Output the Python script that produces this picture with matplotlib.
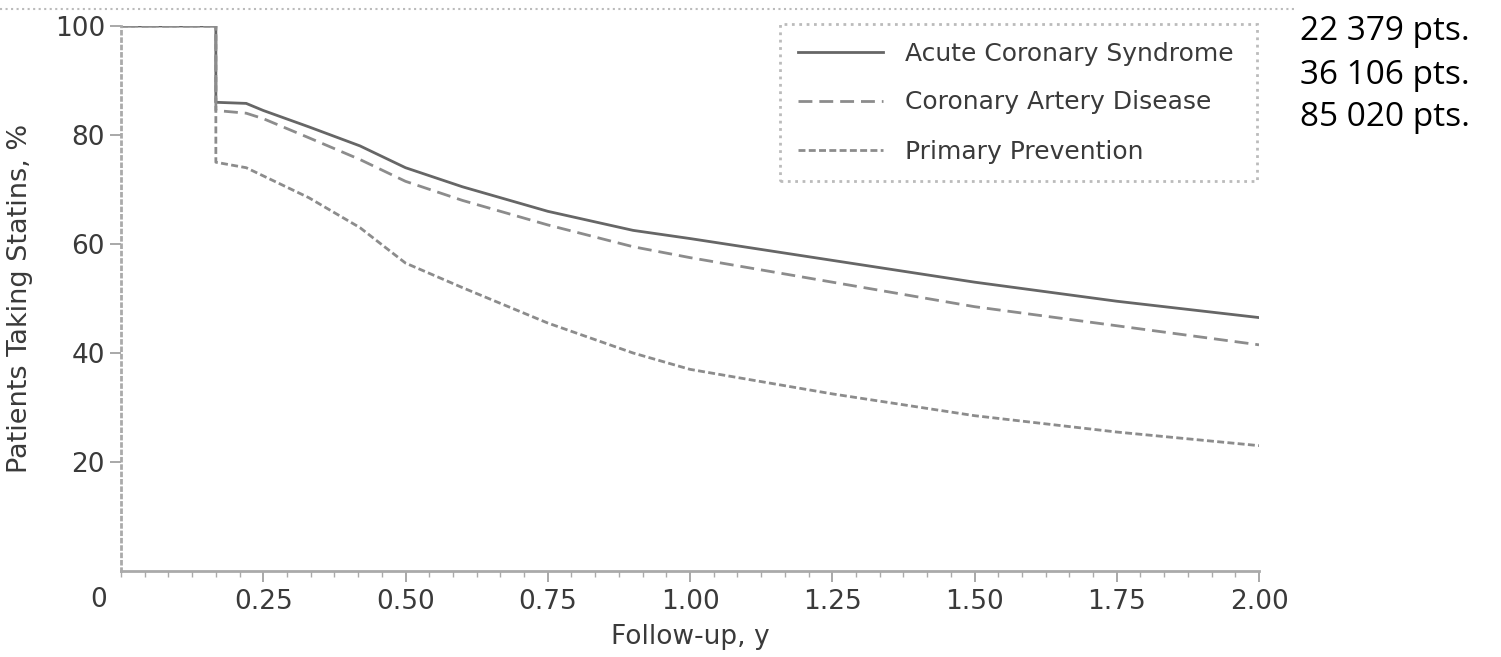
import numpy as np
import matplotlib.pyplot as plt
from matplotlib.lines import Line2D
from matplotlib.ticker import MultipleLocator

# follow-up time (years) and % of patients still taking statins
t = [0, 0.1667, 0.1667, 0.22, 0.25, 0.33, 0.42, 0.5, 0.6, 0.75, 0.9, 1.0, 1.25, 1.5, 1.75, 2.0]
acs = [100, 100, 86, 85.8, 84.5, 81.5, 78, 74, 70.5, 66, 62.5, 61, 57, 53, 49.5, 46.5]
cad = [100, 100, 84.5, 84, 83, 79.5, 75.5, 71.5, 68, 63.5, 59.5, 57.5, 53, 48.5, 45, 41.5]
pp = [100, 100, 75, 74, 72.5, 68.5, 63, 56.5, 52, 45.5, 40, 37, 32.5, 28.5, 25.5, 23]

labels = ['Acute Coronary Syndrome', 'Coronary Artery Disease', 'Primary Prevention']
counts = ['22 379 pts.', '36 106 pts.', '85 020 pts.']
xticks = [0.25, 0.5, 0.75, 1.0, 1.25, 1.5, 1.75, 2.0]
yticks = [20, 40, 60, 80, 100]

plt.rcParams['font.family'] = ['DejaVu Sans']

W, H = 1501, 657
fig = plt.figure(figsize=(W / 100, H / 100), dpi=100)
ax = fig.add_axes([121 / W, 1 - 571 / H, (1259 - 121) / W, (571 - 26) / H])

ax.plot(t, acs, color='#666666', lw=2, ls='-', label=labels[0])
ax.plot(t, cad, color='#8c8c8c', lw=2, ls=(0, (5, 2.5)), label=labels[1])
ax.plot(t, pp, color='#8c8c8c', lw=2, ls=(0, (2.5, 1.2)), label=labels[2])

ax.set_xlim(0, 2.0)
ax.set_ylim(0, 100)
ax.set_xticks(xticks)
ax.set_xticklabels(['%.2f' % v for v in xticks])
ax.set_yticks(yticks)
ax.xaxis.set_minor_locator(MultipleLocator(1 / 24))

for s in ['top', 'right']:
    ax.spines[s].set_visible(False)
for s in ['left', 'bottom']:
    ax.spines[s].set_color('#aaaaaa')
    ax.spines[s].set_linewidth(2)
ax.spines['left'].set_linestyle(':')

ax.tick_params(axis='both', which='major', colors='#999999', labelcolor='#3a3a3a',
               labelsize=19, length=8, width=1.2)
ax.tick_params(axis='x', which='minor', colors='#aaaaaa', length=4, width=1)
ax.tick_params(axis='x', pad=5)

ax.text(-0.02, -0.053, '0', transform=ax.transAxes, ha='center', va='center',
        fontsize=19, color='#3a3a3a')

ax.set_ylabel('Patients Taking Statins, %', fontsize=19.5, color='#3a3a3a')
ax.yaxis.set_label_coords(-0.077, 0.5)
ax.set_xlabel('Follow-up, y', fontsize=19, color='#3a3a3a')
ax.xaxis.set_label_coords(0.5, -0.097)

leg = ax.legend(loc='upper left', bbox_to_anchor=(780 / W, 1 - 24 / H, (1257 - 780) / W, 0),
                bbox_transform=fig.transFigure, mode='expand', fontsize=18,
                handlelength=3.4, handletextpad=0.9, labelspacing=1.0, borderpad=0.7,
                fancybox=False, borderaxespad=0)
frame = leg.get_frame()
frame.set_edgecolor('#aaaaaa')
frame.set_linestyle(':')
frame.set_linewidth(2)
for txt in leg.get_texts():
    txt.set_color('#3a3a3a')

# dotted border line along the top of the original image
fig.add_artist(Line2D([0, 1295 / W], [1 - 9 / H, 1 - 9 / H], color='#bbbbbb', lw=1.5, ls=':'))

for i, c in enumerate(counts):
    fig.text(1300 / W, 1 - (32 + 43 * i) / H, c, fontsize=24, family=['Open Sans', 'DejaVu Sans'],
             color='black', ha='left', va='center')

fig.savefig('out.png', dpi=100)
